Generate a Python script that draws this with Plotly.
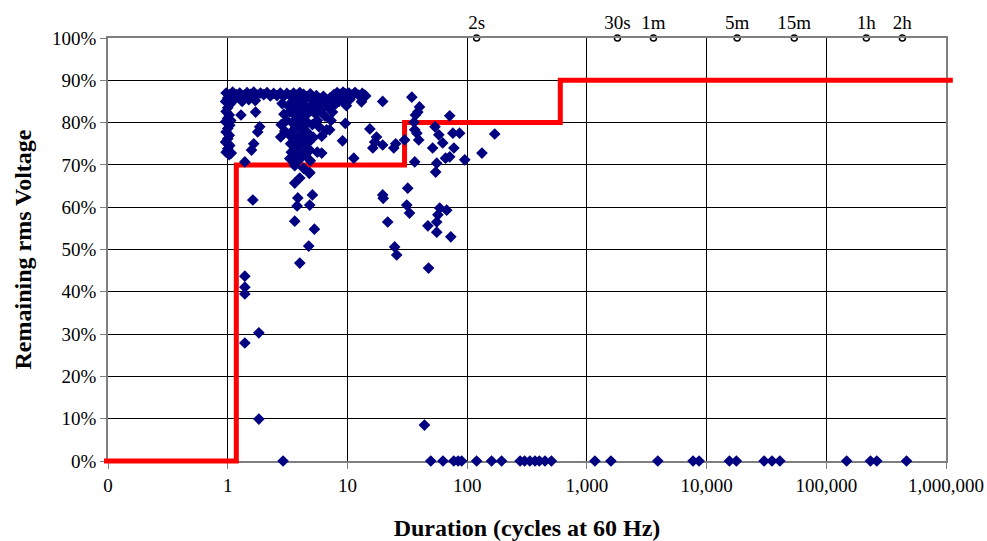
import plotly.graph_objects as go

# ---------------- data ----------------
# Duration of each recorded sag (cycles at 60 Hz) and remaining rms voltage (%)
sag_cycles = [
    # column at ~1 cycle
    0.97, 1.03, 1.0, 0.96, 1.04, 1.0, 0.97, 1.03, 1.0, 0.96, 1.04, 1.0, 0.97, 1.03, 1.0, 0.96,
    1.04, 1.0, 0.97, 1.03, 1.07, 1.06,
    # top row ~87 %
    1.1, 1.18, 1.26, 1.35, 1.45, 1.55, 1.65, 1.76, 1.88, 2.0, 2.13, 2.27, 2.42, 2.58, 2.75, 2.93,
    3.12, 3.32, 3.55, 3.78, 4.0, 4.3, 4.6, 4.9, 5.2, 5.5, 5.9, 6.3, 6.7, 7.2, 7.7, 8.2, 8.7, 9.2,
    9.7, 10.3, 11.0, 11.6, 12.4, 13.3, 14.2, 1.15, 1.32, 1.5, 1.7,
    # outliers 1-2 cycles
    1.29, 1.71, 1.85, 1.78, 1.65, 1.58, 1.39, 1.62, 1.39, 1.39, 1.39, 1.39, 1.82, 1.82,
    # dense cluster 3-10 cycles
    2.85, 2.95, 2.8, 2.77, 3.0, 3.1, 3.2, 3.3, 3.3, 3.35, 3.4, 3.3, 3.45, 3.5, 3.55, 3.6, 3.6,
    3.65, 3.7, 3.62, 3.75, 3.85, 3.9, 3.95, 4.0, 4.0, 4.05, 4.1, 4.2, 4.25, 4.3, 4.35, 4.4, 4.45,
    4.5, 4.6, 4.65, 4.7, 4.8, 4.85, 4.9, 5.0, 5.05, 5.1, 5.2, 5.3, 5.45, 5.6, 5.6, 5.8, 6.0, 6.1,
    6.1, 6.3, 6.7, 7.0, 7.7, 8.5, 9.1, 9.6, 7.1,
    5.5, 6.5, 7.5, 8.0, 6.8, 5.8, 7.3, 9.0, 9.8, 8.0,
    3.63, 4.0, 4.8, 3.63, 4.3, 4.85, 3.85, 3.8, 5.1, 4.84, 3.63, 5.3, 4.75, 4.0,
    # beyond 10 cycles
    10.5, 11.5, 13.9, 13.1, 19.7, 34.5, 40.0, 38.7, 37.0, 36.0, 71.5, 15.4, 17.5, 16.9, 16.3,
    19.7, 24.4, 25.3, 30.0, 38.0, 39.4, 36.5, 53.9, 58.0, 51.5, 62.5, 76.0, 86.5, 77.5, 66.0,
    71.5, 95.5, 133, 170, 36.5, 55.7, 54.6, 11.3, 31.9, 19.7, 19.9, 31.3, 33.0, 59.0, 67.5, 57.0,
    55.7, 21.7, 47.0, 55.7, 73.0, 24.8, 25.8, 47.6, 44.0,
    # interruptions (0 %)
    2.9, 49.7, 62.8, 77.3, 84, 90, 120, 160, 194, 277, 302, 334, 369, 401, 447, 506, 1167, 1589,
    3914, 7709, 8657, 15520, 17740, 30270, 35200, 40930, 147900, 234000, 264000, 468000,
]
sag_volt = [
    87.0, 86.6, 85.8, 85.0, 84.3, 83.5, 82.6, 81.8, 81.0, 80.2, 79.4, 78.6, 77.8, 77.0, 76.2, 75.4,
    74.6, 73.8, 73.0, 72.4, 72.8, 80.5,
    87.2, 86.6, 87.0, 86.4, 87.1, 86.7, 87.2, 86.5, 87.0, 86.6, 87.1, 86.3, 86.9, 86.4, 87.0, 86.2,
    86.9, 86.4, 87.0, 86.5, 87.1, 86.7, 86.2, 86.8, 85.8, 86.4, 85.6, 86.2, 85.4, 85.9, 86.6, 87.1,
    86.7, 87.2, 86.8, 87.0, 86.6, 87.1, 86.5, 86.9, 86.3, 85.6, 85.0, 85.4, 85.2,
    81.8, 82.5, 79.0, 77.8, 75.0, 73.5, 70.7, 61.7, 43.7, 41.1, 39.5, 27.9, 30.3, 9.9,
    84.5, 82.0, 79.5, 76.6, 78.0, 80.5, 84.0, 82.5, 77.0, 75.0, 73.0, 71.5, 80.0, 85.0, 83.0, 78.5,
    76.0, 74.0, 72.0, 70.3, 81.5, 84.5, 79.5, 77.0, 75.0, 73.0, 71.5, 83.0, 85.5, 81.0, 78.5, 76.5,
    74.5, 72.5, 84.0, 82.0, 80.0, 77.5, 75.5, 73.5, 71.0, 85.5, 83.0, 79.5, 76.5, 84.5, 82.0, 80.5,
    73.0, 85.0, 83.0, 72.8, 76.8, 84.5, 78.3, 85.0, 84.2, 85.0, 75.7, 79.8, 78.3,
    83.5, 81.5, 82.5, 84.5, 83.8, 79.0, 80.5, 85.5, 84.0, 85.8,
    65.7, 66.9, 68.0, 69.8, 69.2, 68.2, 62.2, 60.3, 62.9, 60.5, 56.7, 54.8, 50.8, 46.8,
    85.5, 87.0, 86.5, 84.9, 85.0, 86.0, 83.7, 82.5, 81.8, 80.1, 81.6, 78.5, 76.6, 75.4, 74.0,
    74.7, 74.0, 75.0, 75.9, 77.5, 75.9, 78.3, 79.0, 77.1, 74.0, 75.2, 77.5, 77.5, 74.0, 71.6,
    71.9, 71.2, 72.8, 77.3, 70.7, 70.4, 68.3, 71.6, 64.5, 62.9, 62.1, 60.5, 58.6, 59.8, 59.3, 58.2,
    56.5, 56.5, 55.6, 54.1, 53.0, 50.6, 48.7, 45.6, 8.5,
    0, 0, 0, 0, 0, 0, 0, 0, 0, 0, 0, 0, 0, 0, 0, 0, 0, 0,
    0, 0, 0, 0, 0, 0, 0, 0, 0, 0, 0, 0,
]

# Tolerance curve (step line)
curve_cycles = [0.0926, 1.18, 1.18, 30, 30, 600, 600, 1.14e6]
curve_volt = [0, 0, 70, 70, 80, 80, 90, 90]

# Time reference markers along the top
time_cycles = [120, 1800, 3600, 18000, 54000, 216000, 432000]
time_labels = ["2s", "30s", "1m", "5m", "15m", "1h", "2h"]

# Axis ticks
x_tickvals = [0.1, 1, 10, 100, 1000, 10000, 100000, 1000000]
x_ticktext = ["0", "1", "10", "100", "1,000", "10,000", "100,000", "1,000,000"]
y_tickvals = [0, 10, 20, 30, 40, 50, 60, 70, 80, 90, 100]
y_ticktext = ["0%", "10%", "20%", "30%", "40%", "50%", "60%", "70%", "80%", "90%", "100%"]

# ---------------- figure ----------------
W, H = 987, 541
ML, MR, MT, MB = 100, 30, 30, 72
pw, ph = W - ML - MR, H - MT - MB          # outer drawing area
left, right, top, bottom = 108, 946, 38, 461  # main plot area (px)
px_per_dec = (right - left) / 7.0
px_per_pct = (bottom - top) / 100.0

SERIF = "Liberation Serif, Times New Roman, Times, serif"

fig = go.Figure()

# main axes (grid, ticks, labels) + time markers
fig.add_trace(go.Scatter(
    x=time_cycles, y=[100] * len(time_cycles), mode="markers+text",
    text=time_labels, textposition="top center",
    textfont=dict(family=SERIF, size=19, color="black"),
    marker=dict(symbol="circle", size=6, color="white", line=dict(color="black", width=1.5)),
    cliponaxis=False, xaxis="x", yaxis="y", hoverinfo="skip",
))

# overlay axes (slightly larger area so the thick line is not clipped)
fig.add_trace(go.Scatter(
    x=curve_cycles, y=curve_volt, mode="lines",
    line=dict(color="#FF0000", width=5), xaxis="x2", yaxis="y2",
))
fig.add_trace(go.Scatter(
    x=sag_cycles, y=sag_volt, mode="markers",
    marker=dict(symbol="diamond", size=9, color="#000080", line=dict(width=0)),
    xaxis="x2", yaxis="y2",
))

font_ticks = dict(family=SERIF, size=19, color="black")
font_title = dict(family=SERIF, size=24, color="black", weight="bold")

fig.update_layout(
    width=W, height=H,
    margin=dict(l=ML, r=MR, t=MT, b=MB),
    paper_bgcolor="white", plot_bgcolor="rgba(0,0,0,0)",
    font=dict(family=SERIF, color="black"),
    showlegend=False,
    xaxis=dict(
        type="log", range=[-1, 6],
        domain=[(left - ML) / pw, (right - ML) / pw], anchor="y",
        tickmode="array", tickvals=x_tickvals, ticktext=x_ticktext, tickfont=font_ticks,
        showgrid=True, gridcolor="black", gridwidth=1,
        showline=True, linecolor="#7f7f7f", linewidth=1.5, mirror=True,
        ticks="outside", ticklen=6, tickcolor="#7f7f7f", zeroline=False,
        title=dict(text="Duration (cycles at 60 Hz)", font=font_title, standoff=27),
        automargin=False, fixedrange=True,
    ),
    yaxis=dict(
        range=[0, 100],
        domain=[(H - MB - bottom) / ph, (H - MB - top) / ph], anchor="x",
        tickmode="array", tickvals=y_tickvals, ticktext=y_ticktext, tickfont=font_ticks,
        showgrid=True, gridcolor="black", gridwidth=1,
        showline=True, linecolor="#7f7f7f", linewidth=1.5, mirror=True,
        ticks="outside", ticklen=6, tickcolor="#7f7f7f", zeroline=False,
        title=dict(text="Remaining rms Voltage", font=font_title, standoff=14),
        automargin=False, fixedrange=True,
    ),
    xaxis2=dict(
        type="log",
        range=[-1 - (left - ML) / px_per_dec, 6 + (W - MR - right) / px_per_dec],
        domain=[0, 1], anchor="y2", visible=False, fixedrange=True,
    ),
    yaxis2=dict(
        range=[-(H - MB - bottom) / px_per_pct, 100 + (top - MT) / px_per_pct],
        domain=[0, 1], anchor="x2", visible=False, fixedrange=True,
    ),
)

fig.write_html("out.html")
